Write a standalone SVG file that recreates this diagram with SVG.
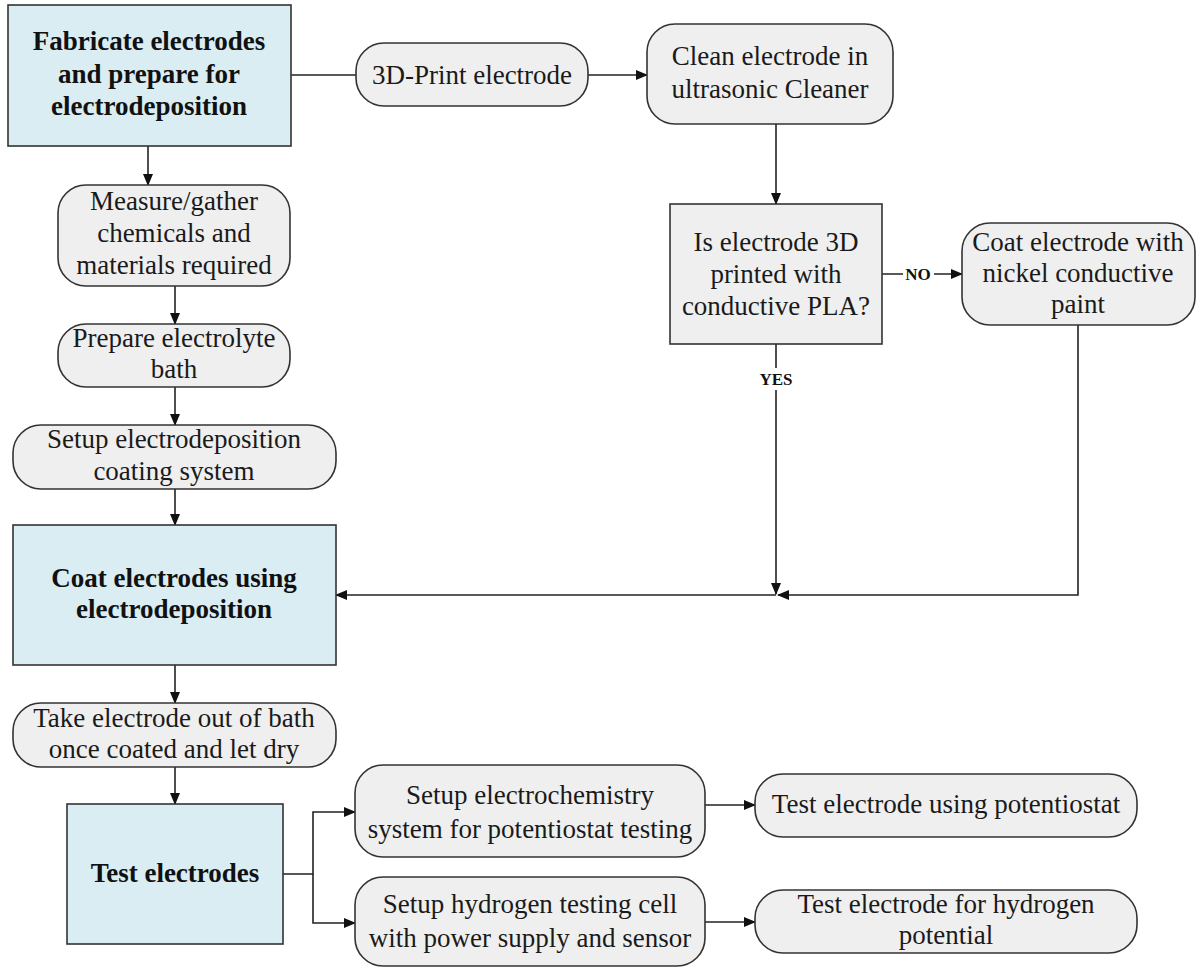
<svg xmlns="http://www.w3.org/2000/svg" width="1200" height="968" viewBox="0 0 1200 968">
<style>
.b{fill:#daedf3;stroke:#333;stroke-width:1.6}
.g{fill:#efefef;stroke:#333;stroke-width:1.6}
text{font-family:'Liberation Serif','Tinos','DejaVu Serif',serif;text-anchor:middle}
.t{font-size:27px;fill:#1a1a1a}
.tb{font-size:27px;font-weight:bold;fill:#111}
.lb{font-size:17px;font-weight:bold;fill:#111}
.c{fill:none;stroke:#222;stroke-width:1.6}
</style>
<defs>
<marker id="ah" markerWidth="12" markerHeight="10" refX="11" refY="5" orient="auto" markerUnits="userSpaceOnUse">
<path d="M0,0 L12,5 L0,10 Z" fill="#111"/>
</marker>
</defs>

<g id="connectors">
<path class="c" d="M291,75 H356"/>
<path class="c" d="M588,75 H647" marker-end="url(#ah)"/>
<path class="c" d="M776,124 V204" marker-end="url(#ah)"/>
<path class="c" d="M882,274 H962" marker-end="url(#ah)"/>
<path class="c" d="M776,344 V594" marker-end="url(#ah)"/>
<path class="c" d="M1078,325 V595 H778" marker-end="url(#ah)"/>
<path class="c" d="M776,595 H336" marker-end="url(#ah)"/>
<path class="c" d="M148,146 V185" marker-end="url(#ah)"/>
<path class="c" d="M175,286 V324" marker-end="url(#ah)"/>
<path class="c" d="M175,387 V425" marker-end="url(#ah)"/>
<path class="c" d="M175,489 V525" marker-end="url(#ah)"/>
<path class="c" d="M175,665 V703" marker-end="url(#ah)"/>
<path class="c" d="M175,767 V804" marker-end="url(#ah)"/>
<path class="c" d="M283,874 H313 V812 H355" marker-end="url(#ah)"/>
<path class="c" d="M313,874 V923 H355" marker-end="url(#ah)"/>
<path class="c" d="M705,805 H755" marker-end="url(#ah)"/>
<path class="c" d="M705,922 H755" marker-end="url(#ah)"/>
<rect x="903" y="264" width="31" height="20" fill="#fff"/>
<text class="lb" x="918" y="280">NO</text>
<rect x="758" y="368" width="36" height="22" fill="#fff"/>
<text class="lb" x="776" y="385">YES</text>
</g>

<g id="n-fabricate">
<rect class="b" x="8" y="5" width="283" height="141"/>
<text class="tb" x="149" y="50">Fabricate electrodes</text>
<text class="tb" x="149" y="83">and prepare for</text>
<text class="tb" x="149" y="115">electrodeposition</text>
</g>

<g id="n-print">
<rect class="g" x="356" y="43" width="232" height="63" rx="28"/>
<text class="t" x="472" y="84">3D-Print electrode</text>
</g>

<g id="n-clean">
<rect class="g" x="647" y="24" width="246" height="100" rx="28"/>
<text class="t" x="770" y="65">Clean electrode in</text>
<text class="t" x="770" y="98">ultrasonic Cleaner</text>
</g>

<g id="n-decision">
<rect class="g" x="670" y="204" width="212" height="140"/>
<text class="t" x="776" y="251">Is electrode 3D</text>
<text class="t" x="776" y="283">printed with</text>
<text class="t" x="776" y="315">conductive PLA?</text>
</g>

<g id="n-nickel">
<rect class="g" x="962" y="223" width="233" height="102" rx="28"/>
<text class="t" x="1078" y="251">Coat electrode with</text>
<text class="t" x="1078" y="282">nickel conductive</text>
<text class="t" x="1078" y="313">paint</text>
</g>

<g id="n-measure">
<rect class="g" x="58" y="185" width="232" height="101" rx="28"/>
<text class="t" x="174" y="210">Measure/gather</text>
<text class="t" x="174" y="242">chemicals and</text>
<text class="t" x="174" y="274">materials required</text>
</g>

<g id="n-prepare">
<rect class="g" x="58" y="324" width="232" height="63" rx="28"/>
<text class="t" x="174" y="347">Prepare electrolyte</text>
<text class="t" x="174" y="378">bath</text>
</g>

<g id="n-setup-coat">
<rect class="g" x="13" y="425" width="323" height="64" rx="28"/>
<text class="t" x="174" y="448">Setup electrodeposition</text>
<text class="t" x="174" y="480">coating system</text>
</g>

<g id="n-coat">
<rect class="b" x="13" y="525" width="323" height="140"/>
<text class="tb" x="174" y="587">Coat electrodes using</text>
<text class="tb" x="174" y="618">electrodeposition</text>
</g>

<g id="n-take">
<rect class="g" x="13" y="703" width="323" height="64" rx="28"/>
<text class="t" x="174" y="727">Take electrode out of bath</text>
<text class="t" x="174" y="758">once coated and let dry</text>
</g>

<g id="n-test">
<rect class="b" x="67" y="804" width="216" height="140"/>
<text class="tb" x="175" y="882">Test electrodes</text>
</g>

<g id="n-setup-echem">
<rect class="g" x="355" y="765" width="350" height="92" rx="28"/>
<text class="t" x="530" y="804">Setup electrochemistry</text>
<text class="t" x="530" y="838">system for potentiostat testing</text>
</g>

<g id="n-setup-h2">
<rect class="g" x="355" y="877" width="350" height="89" rx="28"/>
<text class="t" x="530" y="913">Setup hydrogen testing cell</text>
<text class="t" x="530" y="947">with power supply and sensor</text>
</g>

<g id="n-test-pot">
<rect class="g" x="755" y="774" width="382" height="63" rx="28"/>
<text class="t" x="946" y="813">Test electrode using potentiostat</text>
</g>

<g id="n-test-h2">
<rect class="g" x="755" y="890" width="382" height="63" rx="28"/>
<text class="t" x="946" y="913">Test electrode for hydrogen</text>
<text class="t" x="946" y="944">potential</text>
</g>
</svg>
